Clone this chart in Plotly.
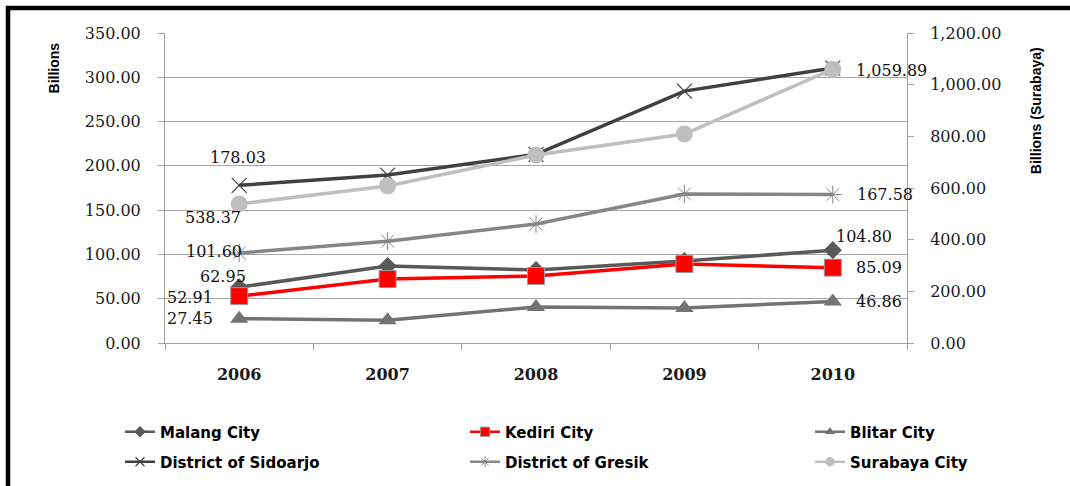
import plotly.graph_objects as go

years = ["2006", "2007", "2008", "2009", "2010"]
malang = [62.95, 86.9, 82.4, 92.5, 104.80]
kediri = [52.91, 72.2, 75.6, 89.2, 85.09]
blitar = [27.45, 25.8, 40.6, 39.5, 46.86]
sidoarjo = [178.03, 189.6, 213.0, 284.4, 310.4]
gresik = [101.60, 115.0, 134.3, 168.2, 167.58]
surabaya = [538.37, 607.7, 727.7, 809.0, 1059.89]

left_ticks = [0, 50, 100, 150, 200, 250, 300, 350]
right_ticks = [0, 200, 400, 600, 800, 1000, 1200]

series = [
    dict(name="Malang City", y=malang, color="#595959", symbol="diamond", size=14, mlc="#595959", mlw=0, legend="legend", axis="y", lw=300),
    dict(name="Kediri City", y=kediri, color="#FF0000", symbol="square", size=17, mlc="#9a9a9a", mlw=1, legend="legend", axis="y", lw=300),
    dict(name="Blitar City", y=blitar, color="#737373", symbol="triangle-up", size=16, mlc="#737373", mlw=0, legend="legend", axis="y", lw=150),
    dict(name="District of Sidoarjo", y=sidoarjo, color="#404040", symbol="x-thin-open", size=15, mlc="#404040", mlw=1.2, legend="legend2", axis="y", lw=300),
    dict(name="District of Gresik", y=gresik, color="#868686", symbol="asterisk-open", size=15, mlc="#868686", mlw=1.0, legend="legend2", axis="y", lw=300),
    dict(name="Surabaya City", y=surabaya, color="#BFBFBF", symbol="circle", size=17, mlc="#BFBFBF", mlw=0, legend="legend2", axis="y2", lw=150),
]

fig = go.Figure()
for s in series:
    fig.add_trace(go.Scatter(
        x=years, y=s["y"], mode="lines+markers", name=s["name"],
        line=dict(color=s["color"], width=3.5),
        marker=dict(symbol=s["symbol"], size=s["size"], color=s["color"],
                    line=dict(color=s["mlc"], width=s["mlw"])),
        yaxis=s["axis"], showlegend=False, cliponaxis=False,
    ))
# legend entries (small markers as in the reference legend)
for s in series:
    fig.add_trace(go.Scatter(
        x=[None], y=[None], mode="lines+markers", name=s["name"],
        line=dict(color=s["color"], width=2.5),
        marker=dict(symbol=s["symbol"], size=max(9, s["size"] * 0.55), color=s["color"],
                    line=dict(color=s["mlc"], width=s["mlw"])),
        legend=s["legend"], showlegend=True, legendwidth=s["lw"],
    ))

# data labels (first and last point of each series)
label_offsets = {
    "Malang City": [(-16, -11), (31, -14)],
    "Kediri City": [(-49, 1), (46, 0)],
    "Blitar City": [(-49, 0), (46, 0)],
    "District of Sidoarjo": [(-1, -28), None],
    "District of Gresik": [(-25, -2), (52, 0)],
    "Surabaya City": [(-26, 14), (59, 1)],
}
for s in series:
    offs = label_offsets[s["name"]]
    for idx, off in zip([0, len(years) - 1], offs):
        if off is None:
            continue
        fig.add_annotation(
            x=idx, y=s["y"][idx], xref="x", yref=s["axis"],
            text=f"{s['y'][idx]:,.2f}", showarrow=False,
            xanchor="center", yanchor="middle", xshift=off[0], yshift=-off[1],
            font=dict(family="DejaVu Serif", size=16, color="#111111"),
        )

# axis titles
fig.add_annotation(x=-0.1496, y=0.889, xref="paper", yref="paper", text="Billions",
                   textangle=-90, showarrow=False, xanchor="center", yanchor="middle",
                   font=dict(family="Liberation Sans", size=14, color="#000000", weight="bold"))
fig.add_annotation(x=1.1739, y=0.748, xref="paper", yref="paper", text="Billions (Surabaya)",
                   textangle=-90, showarrow=False, xanchor="center", yanchor="middle",
                   font=dict(family="Liberation Sans", size=14, color="#000000", weight="bold"))

# outer frame (top and left edges visible)
fig.add_shape(type="line", xref="paper", yref="paper",
              x0=(6 - 165) / 742, x1=(1075 - 165) / 742,
              y0=(343 - 8) / 310, y1=(343 - 8) / 310,
              line=dict(color="#000000", width=4.5), layer="above")
fig.add_shape(type="line", xref="paper", yref="paper",
              x0=(8 - 165) / 742, x1=(8 - 165) / 742,
              y0=(343 - 6) / 310, y1=(343 - 495) / 310,
              line=dict(color="#000000", width=4.5), layer="above")

tick_font = dict(family="DejaVu Serif", size=16, color="#1a1a1a")
legend_font = dict(family="DejaVu Sans", size=15, color="#000000", weight="bold")
fig.update_layout(
    width=1070, height=486,
    margin=dict(l=165, r=163, t=33, b=143, autoexpand=False),
    paper_bgcolor="white", plot_bgcolor="white",
    xaxis=dict(type="category", categoryorder="array", categoryarray=years,
               showline=True, linecolor="#a0a0a0", linewidth=1,
               ticks="outside", tickson="boundaries", ticklen=6, tickcolor="#a0a0a0",
               showgrid=False, tickfont=dict(family="DejaVu Serif", size=16, color="#1a1a1a", weight="bold"),
               ticklabelstandoff=17, range=[-0.5, 4.5], automargin=False),
    yaxis=dict(range=[0, 350], tickvals=left_ticks, tickformat=".2f",
               showline=True, linecolor="#a0a0a0", linewidth=1,
               ticks="outside", ticklen=6, tickcolor="#a0a0a0",
               showgrid=True, gridcolor="#a6a6a6", gridwidth=1, zeroline=False,
               tickfont=tick_font, ticklabelstandoff=14, automargin=False),
    yaxis2=dict(range=[0, 1200], tickvals=right_ticks, tickformat=",.2f",
                overlaying="y", side="right",
                showline=True, linecolor="#a0a0a0", linewidth=1,
                ticks="outside", ticklen=6, tickcolor="#a0a0a0",
                showgrid=False, zeroline=False,
                tickfont=tick_font, ticklabelstandoff=13, automargin=False),
    legend=dict(orientation="h", x=(120 - 165) / 742, xanchor="left",
                y=(343 - 432) / 310, yanchor="middle",
                entrywidth=300, entrywidthmode="pixels",
                font=legend_font, bgcolor="rgba(0,0,0,0)", itemsizing="trace"),
    legend2=dict(orientation="h", x=(120 - 165) / 742, xanchor="left",
                 y=(343 - 462) / 310, yanchor="middle",
                 entrywidth=300, entrywidthmode="pixels",
                 font=legend_font, bgcolor="rgba(0,0,0,0)", itemsizing="trace"),
    showlegend=True,
)

fig.write_html("out.html")
